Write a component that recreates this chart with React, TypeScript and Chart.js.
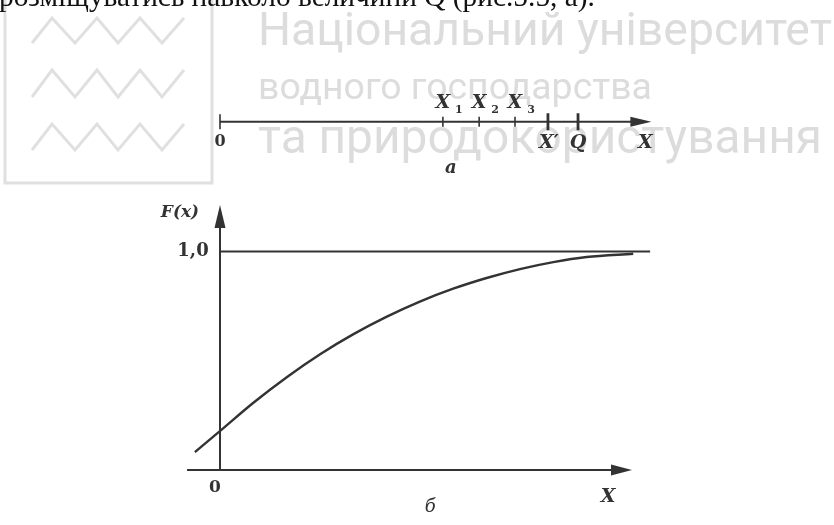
import { useEffect, useRef } from "react";
import { Chart, registerables } from "chart.js";

Chart.register(...registerables);

// Distribution function F(x): sampled points of the smooth curve
const curveX = [-0.61, 0.04, 0.81, 1.62, 2.43, 3.24, 4.05, 4.85, 5.66, 6.47, 7.28, 8.09, 8.9, 10.03];
const curveF = [0.082, 0.185, 0.308, 0.425, 0.53, 0.622, 0.702, 0.771, 0.83, 0.879, 0.92, 0.952, 0.975, 0.99];

// Number line (a): sample values and the two marked points
const sampleX = [5.41, 6.29, 7.16];
const sampleSub = ["1", "2", "3"];
const markX = [7.96, 8.69];
const markLabels = ["X\u2032", "Q"];

// Axis extents in data units
const numberLineLevel = 1.594;
const numberLineEnd = 10.47;
const xAxisStart = -0.8;
const xAxisEnd = 10.0;
const yAxisTop = 1.213;
const unitLineEnd = 10.44;

const INK = "#333333";
const WATER = "#dcdcdc";

function arrow(ctx: CanvasRenderingContext2D, x: number, y: number, dx: number, dy: number, len: number, half: number) {
  const bx = x - dx * len;
  const by = y - dy * len;
  const px = -dy;
  const py = dx;
  ctx.beginPath();
  ctx.moveTo(x, y);
  ctx.lineTo(bx + px * half, by + py * half);
  ctx.lineTo(bx - px * half, by - py * half);
  ctx.closePath();
  ctx.fill();
}

function fitText(ctx: CanvasRenderingContext2D, text: string, x: number, baseline: number, width: number, family: string, weight = "normal", style = "normal") {
  ctx.font = `${style} ${weight} 40px ${family}`;
  const w = ctx.measureText(text).width;
  const size = (40 * width) / w;
  ctx.font = `${style} ${weight} ${size}px ${family}`;
  ctx.textAlign = "left";
  ctx.textBaseline = "alphabetic";
  ctx.fillText(text, x, baseline);
}

const backdrop = {
  id: "backdrop",
  beforeDatasetsDraw(chart: any) {
    const ctx: CanvasRenderingContext2D = chart.ctx;
    ctx.save();
    // watermark logo
    ctx.strokeStyle = "#e0e0e0";
    ctx.lineWidth = 3;
    ctx.lineJoin = "miter";
    ctx.beginPath();
    ctx.moveTo(5, -5);
    ctx.lineTo(5, 183);
    ctx.lineTo(212, 183);
    ctx.lineTo(212, -5);
    ctx.stroke();
    const zx = [32, 52, 75, 97, 118, 140, 162, 184];
    [[18, 43], [70, 97], [124, 150]].forEach(([hi, lo]) => {
      ctx.beginPath();
      zx.forEach((x, i) => {
        const y = i % 2 === 0 ? lo : hi;
        if (i === 0) ctx.moveTo(x, y);
        else ctx.lineTo(x, y);
      });
      ctx.stroke();
    });
    // watermark text
    ctx.fillStyle = WATER;
    fitText(ctx, "Національний університет", 258, 45, 574, "Roboto");
    fitText(ctx, "водного господарства", 258, 99, 394, "Roboto");
    fitText(ctx, "та природокористування", 258, 153, 564, "Roboto");
    // running text above the figure
    ctx.fillStyle = "#111111";
    fitText(ctx, "розміщуватись навколо величини Q (рис.5.5, а).", -1, 6, 596, "'Liberation Serif'");
    ctx.restore();
  },
  afterDatasetsDraw(chart: any) {
    const ctx: CanvasRenderingContext2D = chart.ctx;
    const xs = chart.scales.x;
    const ys = chart.scales.y;
    const px = (v: number) => xs.getPixelForValue(v);
    const py = (v: number) => ys.getPixelForValue(v);
    ctx.save();
    ctx.fillStyle = INK;
    // arrowheads
    arrow(ctx, px(numberLineEnd), py(numberLineLevel), 1, 0, 21, 5);
    arrow(ctx, px(xAxisEnd), py(0), 1, 0, 21, 5.5);
    arrow(ctx, px(0), py(yAxisTop), 0, -1, 23, 5.5);

    const serifB = "'DejaVu Serif'";
    const label = (t: string, x: number, y: number, font: string, align: CanvasTextAlign = "center") => {
      ctx.font = font;
      ctx.textAlign = align;
      ctx.textBaseline = "middle";
      ctx.fillText(t, x, y);
    };
    const italic = `italic bold 19px ${serifB}`;
    const lineY = py(numberLineLevel);
    // number line labels
    label("0", px(0), lineY + 20, `bold 16px ${serifB}`);
    sampleX.forEach((v, i) => {
      label("X", px(v), lineY - 19, italic);
      label(sampleSub[i], px(v) + 16, lineY - 12, `bold 11px ${serifB}`);
    });
    markX.forEach((v, i) => label(markLabels[i], px(v) + (i === 0 ? 1 : 0), lineY + 21, italic));
    label("X", px(numberLineEnd) - 6, lineY + 21, italic);
    label("a", px(5.6), lineY + 47, `italic bold 18px ${serifB}`);

    // distribution plot labels
    label("F(x)", px(0) - 40, py(yAxisTop) + 8, `italic bold 17px ${serifB}`);
    label("1,0", px(0) - 27, py(1), `bold 18px ${serifB}`);
    label("0", px(0) - 5, py(0) + 18, `bold 17px ${serifB}`);
    label("X", px(xAxisEnd) - 24, py(0) + 27, italic);
    label("б", px(5.1), py(0) + 37, `italic 18px ${serifB}`);
    ctx.restore();
  },
};

export default function App() {
  const ref = useRef<HTMLCanvasElement>(null);
  useEffect(() => {
    document.body.style.margin = "0";
    const canvas = ref.current;
    if (!canvas) return;
    const seg = (x0: number, y0: number, x1: number, y1: number) => ({
      type: "line" as const,
      data: [{ x: x0, y: y0 }, { x: x1, y: y1 }],
      borderColor: INK,
      borderWidth: 2,
      pointRadius: 0,
      tension: 0,
    });
    const chart = new Chart(canvas, {
      type: "scatter",
      data: {
        datasets: [
          {
            type: "line",
            label: "F(x)",
            data: curveX.map((x, i) => ({ x, y: curveF[i] })),
            borderColor: INK,
            borderWidth: 2.4,
            pointRadius: 0,
            cubicInterpolationMode: "monotone",
          },
          seg(0, numberLineLevel, numberLineEnd - 0.3, numberLineLevel),
          seg(xAxisStart, 0, xAxisEnd - 0.3, 0),
          seg(0, 0, 0, yAxisTop - 0.05),
          seg(0, 1, unitLineEnd, 1),
          {
            label: "samples",
            data: [0, ...sampleX].map((x) => ({ x, y: numberLineLevel })),
            pointStyle: "line",
            rotation: 90,
            radius: [7.5, 5, 5, 5],
            borderColor: INK,
            borderWidth: 1.6,
          },
          {
            label: "marks",
            data: markX.map((x) => ({ x, y: numberLineLevel })),
            pointStyle: "line",
            rotation: 90,
            radius: 8.5,
            borderColor: INK,
            borderWidth: 2.8,
          },
        ],
      },
      options: {
        responsive: false,
        animation: false,
        layout: { padding: { left: 14, right: 37.2, top: 3.5, bottom: 1.3 } },
        scales: {
          x: { type: "linear", min: -5, max: 14, display: false },
          y: { type: "linear", min: -0.2, max: 2.1, display: false },
        },
        plugins: { legend: { display: false }, tooltip: { enabled: false } },
        events: [],
      },
      plugins: [backdrop],
    } as any);
    return () => chart.destroy();
  }, []);
  return (
    <div style={{ position: "absolute", left: 0, top: 0, width: 834, height: 525 }}>
      <canvas ref={ref} width={834} height={525} style={{ display: "block" }} />
    </div>
  );
}
